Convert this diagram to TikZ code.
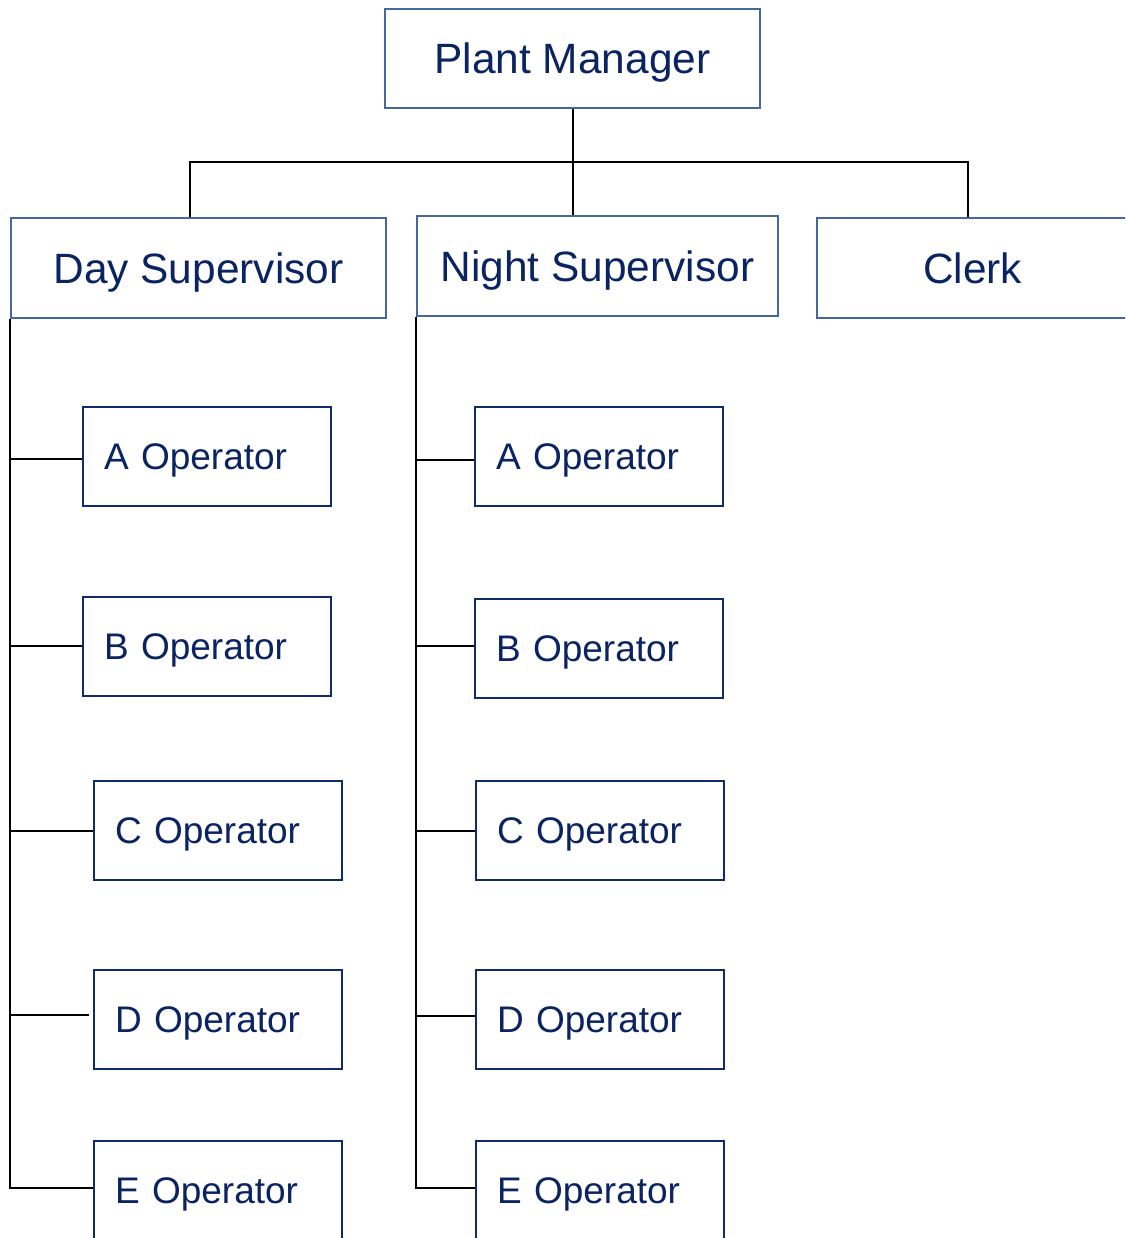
\documentclass[tikz,border=0pt]{standalone}
\usepackage{fontspec}
\setmainfont{Liberation Sans}
\definecolor{txtnavy}{RGB}{10,36,99}
\definecolor{topborder}{RGB}{68,105,154}
\definecolor{opborder}{RGB}{14,43,110}
\begin{document}
\begin{tikzpicture}[x=1pt,y=-1pt,
  topbox/.style={draw=topborder,line width=2pt,minimum height=99pt,inner sep=0pt,
    text=txtnavy,font=\fontsize{42.4}{50}\selectfont,text height=30.4pt,text depth=0pt},
  opbox/.style={draw=opborder,line width=2.5pt,minimum height=99pt,inner ysep=0pt,
    inner xsep=21pt,text width=206pt,align=left,
    text=txtnavy,font=\fontsize{37}{44}\selectfont,text height=26.5pt,text depth=0pt},
  conn/.style={draw=black,line width=2pt}]
\useasboundingbox (0,0) rectangle (1125,1238);
\clip (0,0) rectangle (1125,1238);
\fill[white] (0,0) rectangle (1125,1238);
% top level
\node[topbox,minimum width=375pt] (PM) at (572.5,58.5) {Plant Manager};
\node[topbox,minimum width=375pt] (DS) at (198.5,268) {Day Supervisor};
\node[topbox,minimum width=361pt] (NS) at (597.5,266) {Night Supervisor};
\node[topbox,minimum width=311pt] (CL) at (972.5,268) {Clerk};
% day operators
\node[opbox] (DA) at (207,456.5) {A Operator};
\node[opbox] (DB) at (207,646.5) {B Operator};
\node[opbox] (DC) at (218,830.5) {C Operator};
\node[opbox] (DD) at (218,1019.5) {D Operator};
\node[opbox] (DE) at (218,1190.5) {E Operator};
% night operators
\node[opbox] (NA) at (599,456.5) {A Operator};
\node[opbox] (NB) at (599,648.5) {B Operator};
\node[opbox] (NC) at (600,830.5) {C Operator};
\node[opbox] (ND) at (600,1019.5) {D Operator};
\node[opbox] (NE) at (600,1190.5) {E Operator};
% connectors top
\coordinate (jc) at (573,162);
\coordinate (jl) at (190,162);
\coordinate (jr) at (968,162);
\draw[conn] (PM.south -| jc) -- (jc);
\draw[conn] (jl |- DS.north) -- (jl) -- (jr) -- (jr |- CL.north);
\draw[conn] (jc) -- (jc |- NS.north);
% day spine
\coordinate (dEe) at ([yshift=2.5pt]DE.west);
\draw[conn] (DS.south west) -- (DS.south west |- dEe) -- (dEe);
\draw[conn] ([yshift=-2.5pt]DA.west) -- ([yshift=-2.5pt]DA.west -| DS.south west);
\draw[conn] ([yshift=0.5pt]DB.west) -- ([yshift=0.5pt]DB.west -| DS.south west);
\draw[conn] (DC.west) -- (DC.west -| DS.south west);
\draw[conn] ([xshift=-4pt,yshift=4.5pt]DD.west) -- ([yshift=4.5pt]DD.west -| DS.south west);
% night spine
\coordinate (nEe) at ([yshift=2.5pt]NE.west);
\draw[conn] (NS.south west) -- (NS.south west |- nEe) -- (nEe);
\draw[conn] ([yshift=-3.5pt]NA.west) -- ([yshift=-3.5pt]NA.west -| NS.south west);
\draw[conn] ([yshift=2.5pt]NB.west) -- ([yshift=2.5pt]NB.west -| NS.south west);
\draw[conn] (NC.west) -- (NC.west -| NS.south west);
\draw[conn] ([yshift=3.5pt]ND.west) -- ([yshift=3.5pt]ND.west -| NS.south west);
\end{tikzpicture}
\end{document}
